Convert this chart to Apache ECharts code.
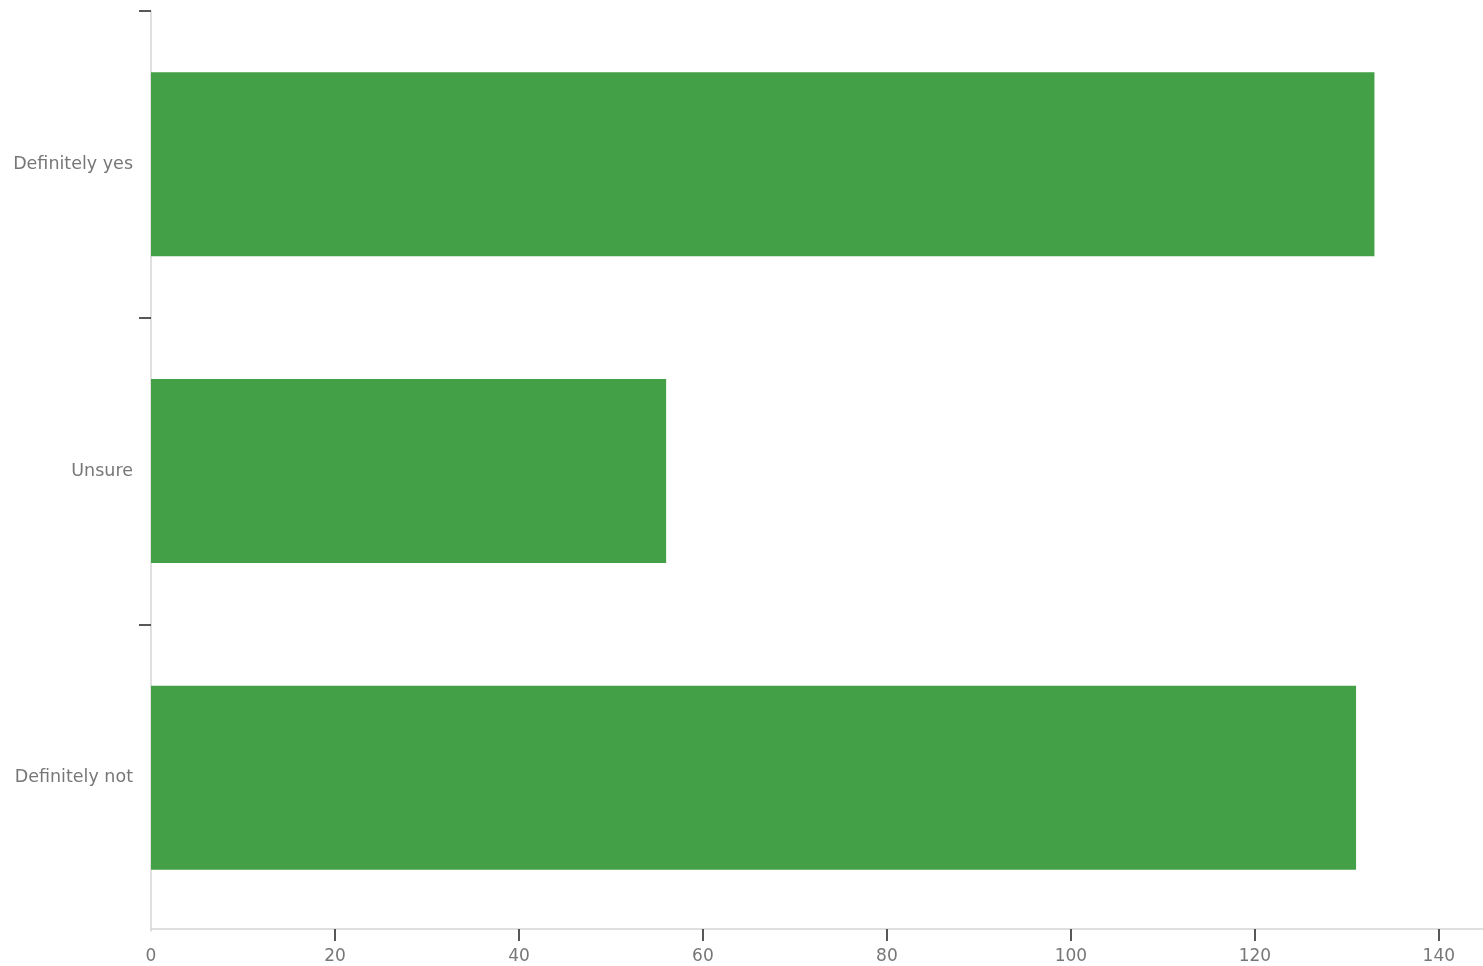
<!DOCTYPE html>
<html><head><meta charset="utf-8">
<script src="https://cdn.jsdelivr.net/npm/echarts@6/dist/echarts.min.js"></script>
<style>html,body{margin:0;padding:0;background:#fff;overflow:hidden}#c{width:1483px;height:966px}</style>
</head><body><div id="c"></div>
<script>
const categories = ['Definitely not', 'Unsure', 'Definitely yes'];
const values = [131, 56, 133];
const xTickLabels = [0, 20, 40, 60, 80, 100, 120, 140];
const xTicks = [20, 40, 60, 80, 100, 120, 140];
const yTickPositions = [1, 2, 3];

const chart = echarts.init(document.getElementById('c'), null, {renderer: 'canvas', width: 1483, height: 966});
const font = '"DejaVu Sans", sans-serif';
chart.setOption({
  animation: false,
  grid: {left: 151, right: 0, top: 11, bottom: 35, containLabel: false},
  xAxis: {
    type: 'value', min: 0, max: 144.8, offset: -2,
    axisLine: {show: true, onZero: false, lineStyle: {color: '#d6d6d6', width: 1.5}},
    axisTick: {show: true, length: 12, lineStyle: {color: '#222', width: 1.5}, customValues: xTicks},
    axisLabel: {color: '#777', fontFamily: font, fontSize: 17, margin: 19, customValues: xTickLabels},
    splitLine: {show: false}
  },
  yAxis: [{
    type: 'category', data: categories,
    axisLine: {show: true, lineStyle: {color: '#d6d6d6', width: 1.5}},
    axisTick: {show: false},
    axisLabel: {color: '#777', fontFamily: font, fontSize: 17.5, margin: 18, padding: [3, 0, 0, 0]},
    splitLine: {show: false}
  }, {
    type: 'value', position: 'left', min: 0, max: 3,
    axisLine: {show: false},
    axisTick: {show: true, length: 12, lineStyle: {color: '#222', width: 1.5}, customValues: yTickPositions},
    axisLabel: {show: false},
    splitLine: {show: false}
  }],
  series: [{
    type: 'bar', data: values, yAxisIndex: 0,
    barCategoryGap: '40%',
    itemStyle: {color: '#43a047'}
  }]
});
</script></body></html>
